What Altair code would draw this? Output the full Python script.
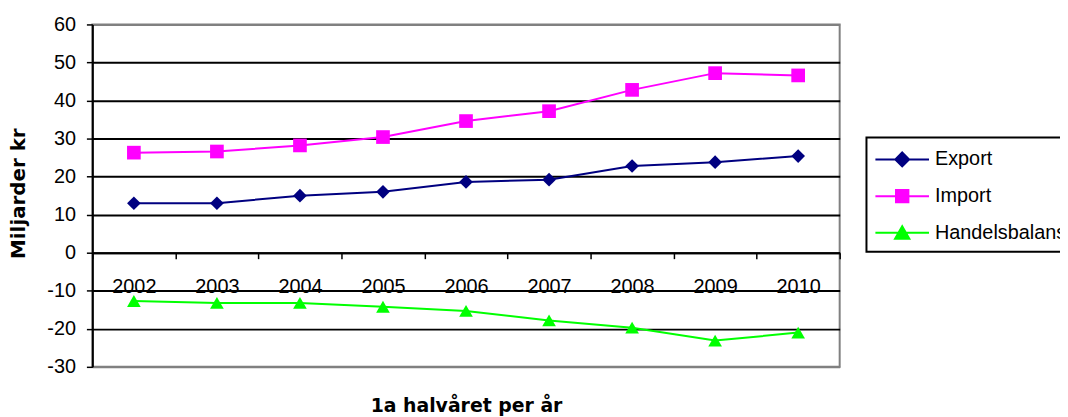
import altair as alt
import pandas as pd

years = ["2002", "2003", "2004", "2005", "2006", "2007", "2008", "2009", "2010"]
export_vals = [13.0, 13.0, 15.0, 16.0, 18.6, 19.2, 22.8, 23.8, 25.4]
import_vals = [26.3, 26.6, 28.2, 30.4, 34.6, 37.2, 42.8, 47.2, 46.6]
balance_vals = [-12.7, -13.2, -13.2, -14.2, -15.3, -17.8, -19.7, -23.1, -21.0]

series_names = ["Export", "Import", "Handelsbalans"]
series_colors = ["#000080", "#FF00FF", "#00FF00"]
point_shapes = ["diamond", "square", "triangle-up"]
legend_paths = [
    "M-2.25,0H2.25M0,-0.58L0.58,0L0,0.58L-0.58,0Z",
    "M-2.25,0H2.25M-0.52,-0.52H0.52V0.52H-0.52Z",
    "M-2.25,0H2.25M0,-0.55L0.6,0.5H-0.6Z",
]
y_ticks = [-30, -20, -10, 0, 10, 20, 30, 40, 50, 60]

rows = []
for name, vals in zip(series_names, [export_vals, import_vals, balance_vals]):
    for yr, v in zip(years, vals):
        rows.append({"year": yr, "value": v, "series": name})
df = pd.DataFrame(rows)

W, H = 753, 345
Y_MIN, Y_MAX = -30, 60
zero_offset = -H * (0 - Y_MIN) / (Y_MAX - Y_MIN)

x_enc = alt.X(
    "year:N",
    sort=years,
    scale=alt.Scale(type="band", paddingInner=0, paddingOuter=0),
    axis=alt.Axis(
        orient="bottom",
        offset=zero_offset,
        grid=False,
        domain=True,
        domainColor="black",
        domainWidth=2,
        ticks=True,
        tickBand="extent",
        tickSize=6,
        tickColor="black",
        tickWidth=1.5,
        labelFontSize=20,
        labelColor="black",
        labelPadding=18,
        labelAngle=0,
        title="1a halvåret per år",
        titleFont="DejaVu Sans",
        titleFontSize=19,
        titleFontWeight="bold",
        titleColor="black",
        titleX=W / 2,
        titleY=160,
        titleAlign="center",
        titleBaseline="alphabetic",
    ),
)

y_enc = alt.Y(
    "value:Q",
    scale=alt.Scale(domain=[Y_MIN, Y_MAX], nice=False, zero=False),
    axis=alt.Axis(
        values=y_ticks,
        labelExpr="'' + datum.value",
        grid=True,
        gridColor={
            "condition": {"test": "datum.value === 60 || datum.value === -30", "value": "#808080"},
            "value": "black",
        },
        gridWidth=2,
        domain=True,
        domainColor="black",
        domainWidth=2,
        tickSize=6,
        tickColor="black",
        tickWidth=1.5,
        labelFontSize=20,
        labelColor="black",
        labelPadding=11,
        title="Miljarder kr",
        titleFont="DejaVu Sans",
        titleFontSize=20,
        titleFontWeight="bold",
        titleColor="black",
        titleAngle=270,
        titleX=-74,
        titleY=170,
        titleAlign="center",
        titleBaseline="middle",
    ),
)

base = alt.Chart(df)

line_layers = []
point_layers = []
for name, col, shp in zip(series_names, series_colors, point_shapes):
    sub = base.transform_filter(alt.datum.series == name)
    line_layers.append(
        sub.mark_line(strokeWidth=2, color=col).encode(x=x_enc, y=y_enc)
    )
    point_layers.append(
        sub.mark_point(shape=shp, filled=True, color=col, size=190, opacity=1)
        .encode(x=x_enc, y=y_enc)
    )

leg = alt.Legend(
    title=None,
    orient="none",
    legendX=780,
    legendY=114,
    strokeColor="black",
    fillColor="white",
    padding=9,
    symbolSize=576,
    symbolStrokeWidth=2,
    symbolOpacity=1,
    symbolOffset=14,
    labelOffset=20,
    labelFontSize=20,
    labelColor="black",
    rowPadding=13,
)

legend_layer = (
    base.mark_point(filled=True, opacity=0, size=1)
    .encode(
        x=x_enc,
        y=y_enc,
        fill=alt.Fill("series:N", scale=alt.Scale(domain=series_names, range=series_colors), legend=leg),
        stroke=alt.Stroke("series:N", scale=alt.Scale(domain=series_names, range=series_colors), legend=leg),
        shape=alt.Shape("series:N", scale=alt.Scale(domain=series_names, range=legend_paths), legend=leg),
    )
)

chart = (
    alt.layer(*line_layers, *point_layers, legend_layer)
    .properties(
        width=W,
        height=H,
        autosize=alt.AutoSizeParams(type="none"),
        padding={"left": 85, "top": 15, "right": 222, "bottom": 52},
    )
    .configure(font="Liberation Sans")
    .configure_view(stroke="#808080", strokeWidth=2)
    .configure_legend(strokeWidth=2)
)

chart.save("out.html", embed_options={"renderer": "svg", "actions": False})
